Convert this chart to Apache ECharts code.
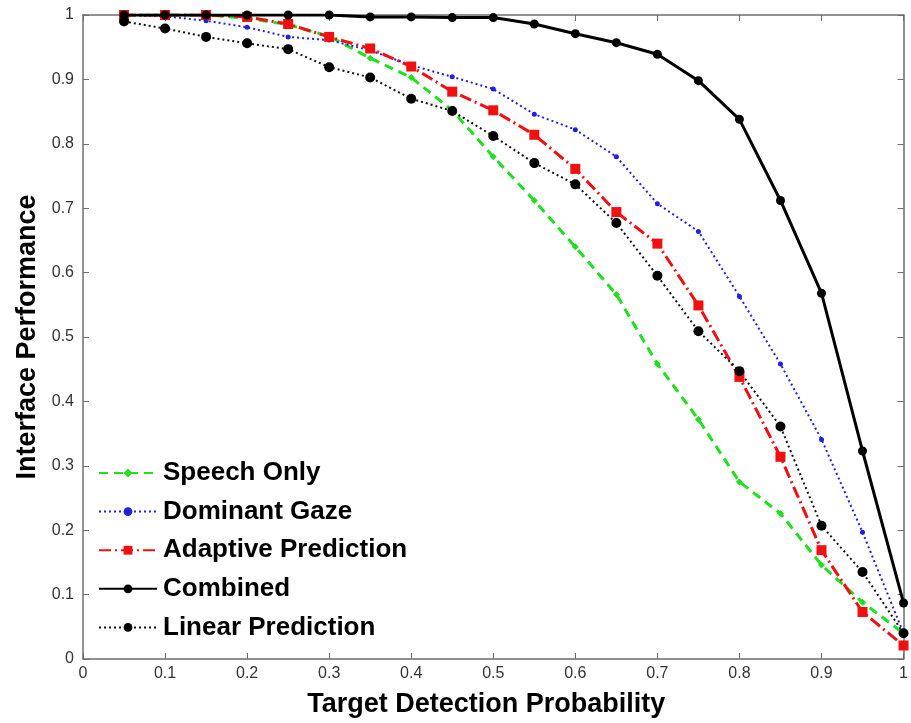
<!DOCTYPE html>
<html>
<head>
<meta charset="utf-8">
<script src="https://cdn.jsdelivr.net/npm/echarts@6/dist/echarts.min.js"></script>
<style>
  html, body { margin: 0; padding: 0; background: #fff; }
  #chart { width: 911px; height: 723px; }
</style>
</head>
<body>
<div id="chart"></div>
<script>
// Target detection probability (x) for every series
const detectionProb = [0.05, 0.1, 0.15, 0.2, 0.25, 0.3, 0.35, 0.4, 0.45, 0.5,
                       0.55, 0.6, 0.65, 0.7, 0.75, 0.8, 0.85, 0.9, 0.95, 1.0];

// Interface performance per series
const speechOnly = [1.0, 1.0, 1.0, 0.995, 0.985, 0.967, 0.933, 0.903, 0.852, 0.780,
                    0.712, 0.640, 0.566, 0.458, 0.372, 0.275, 0.226, 0.146, 0.088, 0.040];
const dominantGaze = [1.0, 0.998, 0.991, 0.981, 0.966, 0.961, 0.945, 0.922, 0.904, 0.885,
                      0.846, 0.822, 0.780, 0.707, 0.664, 0.563, 0.458, 0.341, 0.197, 0.040];
const adaptivePrediction = [1.0, 1.0, 1.0, 0.997, 0.986, 0.966, 0.948, 0.920, 0.881, 0.852,
                            0.814, 0.761, 0.694, 0.645, 0.549, 0.438, 0.314, 0.169, 0.073, 0.021];
const combined = [1.0, 1.0, 1.0, 1.0, 1.0, 1.0, 0.997, 0.997, 0.996, 0.996,
                  0.986, 0.971, 0.957, 0.939, 0.898, 0.838, 0.712, 0.568, 0.323, 0.087];
const linearPrediction = [0.990, 0.979, 0.966, 0.956, 0.947, 0.919, 0.903, 0.870, 0.851, 0.812,
                          0.770, 0.737, 0.677, 0.595, 0.509, 0.447, 0.361, 0.207, 0.135, 0.040];

const seriesNames = ['Speech Only', 'Dominant Gaze', 'Adaptive Prediction', 'Combined', 'Linear Prediction'];

function pairs(ys) {
  return detectionProb.map((x, i) => [x, ys[i]]);
}

const frameColor = '#6e6e6e';
const fontFamily = 'Liberation Sans, Arial, sans-serif';
const tickFont = { color: '#333', fontSize: 16, fontFamily: fontFamily };
const nameFont = { color: '#000', fontSize: 27, fontWeight: 'bold', fontFamily: fontFamily };

const chart = echarts.init(document.getElementById('chart'), null, { renderer: 'canvas' });

chart.setOption({
  animation: false,
  backgroundColor: '#fff',
  grid: { left: 83, right: 4, top: 15, bottom: 64, containLabel: false },
  xAxis: [
    {
      type: 'value', min: 0, max: 1, interval: 0.1,
      name: 'Target Detection Probability', nameLocation: 'middle', nameGap: 32,
      nameTextStyle: Object.assign({ padding: [0, 14, 0, 0] }, nameFont),
      axisLine: { show: true, onZero: false, lineStyle: { color: frameColor, width: 1.5 } },
      axisTick: { show: true, inside: true, length: 6, lineStyle: { color: frameColor } },
      axisLabel: Object.assign({ margin: 7, formatter: v => String(+v.toFixed(1)) }, tickFont),
      splitLine: { show: false }
    },
    {
      type: 'value', min: 0, max: 1, interval: 0.1, position: 'top',
      axisLine: { show: true, onZero: false, lineStyle: { color: frameColor, width: 1.5 } },
      axisTick: { show: true, inside: true, length: 6, lineStyle: { color: frameColor } },
      axisLabel: { show: false },
      splitLine: { show: false }
    }
  ],
  yAxis: [
    {
      type: 'value', min: 0, max: 1, interval: 0.1,
      name: 'Interface Performance', nameLocation: 'middle', nameGap: 41,
      nameTextStyle: nameFont,
      axisLine: { show: true, onZero: false, lineStyle: { color: frameColor, width: 1.5 } },
      axisTick: { show: true, inside: true, length: 6, lineStyle: { color: frameColor } },
      axisLabel: Object.assign({ margin: 9, formatter: v => String(+v.toFixed(1)) }, tickFont),
      splitLine: { show: false }
    },
    {
      type: 'value', min: 0, max: 1, interval: 0.1, position: 'right',
      axisLine: { show: true, onZero: false, lineStyle: { color: frameColor, width: 1.5 } },
      axisTick: { show: true, inside: true, length: 6, lineStyle: { color: frameColor } },
      axisLabel: { show: false },
      splitLine: { show: false }
    }
  ],
  legend: {
    data: seriesNames,
    orient: 'vertical',
    left: 98, top: 460,
    padding: 0,
    itemGap: 12.6,
    itemWidth: 58, itemHeight: 11,
    textStyle: { color: '#000', fontSize: 26, fontWeight: 'bold', fontFamily: fontFamily, padding: [0, 0, 0, 1] }
  },
  series: [
    {
      name: 'Speech Only', type: 'line', data: pairs(speechOnly),
      symbol: 'diamond', symbolSize: 7, z: 2,
      lineStyle: { color: '#1fe01f', width: 3, type: [9, 6] },
      itemStyle: { color: '#1fe01f' }
    },
    {
      name: 'Dominant Gaze', type: 'line', data: pairs(dominantGaze),
      symbol: 'circle', symbolSize: 5, z: 3,
      lineStyle: { color: '#2020e0', width: 2, type: [2, 3] },
      itemStyle: { color: '#2020e0' }
    },
    {
      name: 'Adaptive Prediction', type: 'line', data: pairs(adaptivePrediction),
      symbol: 'rect', symbolSize: 10, z: 4,
      lineStyle: { color: '#f01010', width: 3, type: [12, 4, 2, 4] },
      itemStyle: { color: '#f01010' }
    },
    {
      name: 'Combined', type: 'line', data: pairs(combined),
      symbol: 'circle', symbolSize: 9, z: 5,
      lineStyle: { color: '#000', width: 3, type: 'solid' },
      itemStyle: { color: '#000' }
    },
    {
      name: 'Linear Prediction', type: 'line', data: pairs(linearPrediction),
      symbol: 'circle', symbolSize: 10, z: 4,
      lineStyle: { color: '#111', width: 2, type: [2, 3] },
      itemStyle: { color: '#000' }
    }
  ]
});
</script>
</body>
</html>
